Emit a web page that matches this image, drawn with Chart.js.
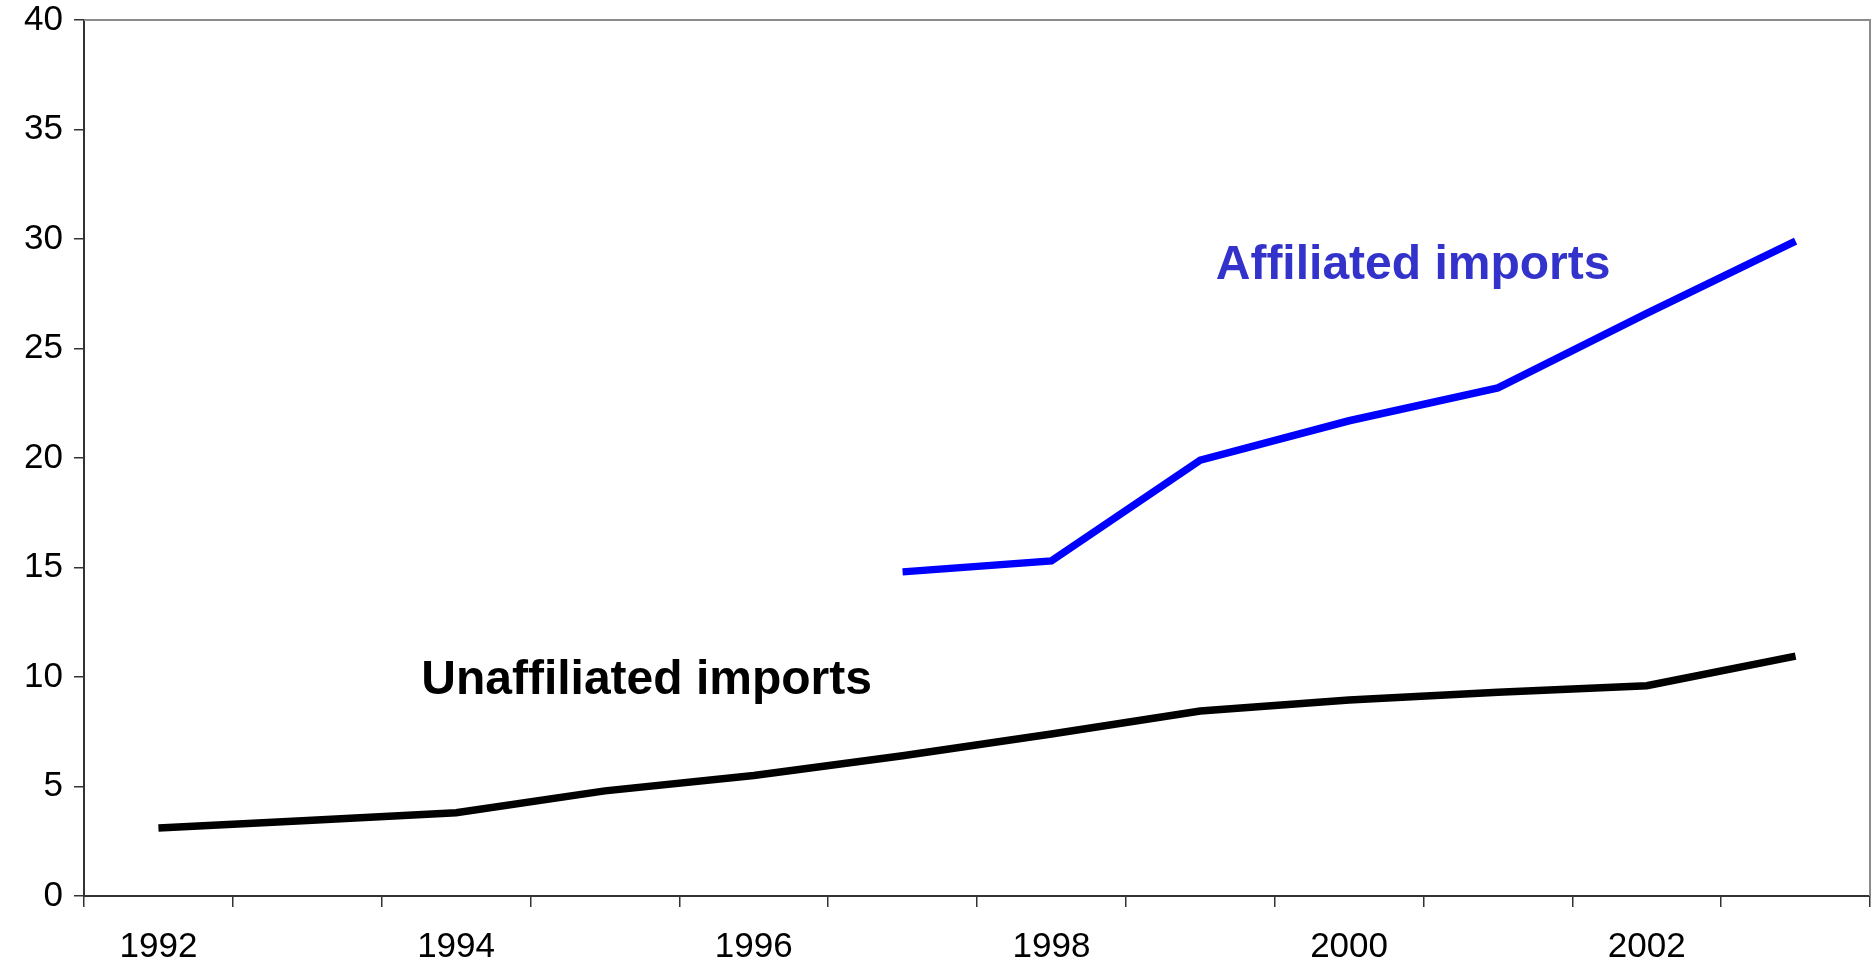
<!DOCTYPE html>
<html>
<head>
<meta charset="utf-8">
<script src="https://cdn.jsdelivr.net/npm/chart.js@4.4.1/dist/chart.umd.min.js"></script>
<style>
    html, body { margin: 0; padding: 0; background: #fff; }
    #wrap { width: 1873px; height: 962px; }
</style>
</head>
<body>
<div id="wrap"><canvas id="importsChart" width="1873" height="962"></canvas></div>
<script>
const years = ['1992', '1993', '1994', '1995', '1996', '1997', '1998', '1999', '2000', '2001', '2002', '2003'];
const unaffiliated = [3.1, 3.45, 3.8, 4.8, 5.5, 6.4, 7.4, 8.45, 8.95, 9.3, 9.6, 10.95];
const affiliated = [null, null, null, null, null, 14.8, 15.3, 19.9, 21.7, 23.2, 26.6, 29.9];
const yTicks = [0, 5, 10, 15, 20, 25, 30, 35, 40];

// text labels: [text, colour, x (category index), y (value)]
const seriesLabels = [
    ['Affiliated imports', '#3333cc', 8.43, 28.8],
    ['Unaffiliated imports', '#000000', 3.28, 9.85]
];

const framePlugin = {
    id: 'frame',
    afterDraw: function (chart) {
        const ctx = chart.ctx;
        const area = chart.chartArea;
        ctx.save();
        ctx.strokeStyle = '#8c8c8c';
        ctx.lineWidth = 2;
        ctx.beginPath();
        ctx.moveTo(area.left, area.top);
        ctx.lineTo(area.right, area.top);
        ctx.lineTo(area.right, area.bottom);
        ctx.stroke();

        ctx.font = 'bold 48px "Liberation Sans", Arial, sans-serif';
        ctx.textAlign = 'center';
        ctx.textBaseline = 'middle';
        seriesLabels.forEach(function (item) {
            ctx.fillStyle = item[1];
            ctx.fillText(item[0], chart.scales.x.getPixelForValue(item[2]), chart.scales.y.getPixelForValue(item[3]));
        });
        ctx.restore();
    }
};

const showChart = function () {
    const ctx = document.getElementById('importsChart').getContext('2d');
    const tickFont = { family: '"Liberation Sans", Arial, sans-serif', size: 35 };

    new Chart(ctx, {
        type: 'line',
        data: {
            labels: years,
            datasets: [{
                label: 'Unaffiliated imports',
                data: unaffiliated,
                borderColor: '#000000',
                borderWidth: 7.5,
                pointRadius: 0,
                tension: 0
            }, {
                label: 'Affiliated imports',
                data: affiliated,
                borderColor: '#0000ff',
                borderWidth: 7.5,
                pointRadius: 0,
                tension: 0
            }]
        },
        options: {
            responsive: false,
            animation: false,
            layout: { padding: { top: 0, right: 3, left: 0, bottom: 0 } },
            plugins: {
                legend: { display: false },
                tooltip: { enabled: false }
            },
            scales: {
                x: {
                    offset: true,
                    grid: { offset: true, drawOnChartArea: false, tickLength: 11, color: '#333', lineWidth: 1.5 },
                    border: { color: '#333', width: 2 },
                    ticks: {
                        autoSkip: false,
                        maxRotation: 0,
                        padding: 19,
                        color: '#000',
                        font: tickFont,
                        callback: function (value, index) {
                            return index % 2 === 0 ? years[index] : '';
                        }
                    },
                    afterFit: function (scale) { scale.height = 66; }
                },
                y: {
                    min: 0,
                    max: 40,
                    afterBuildTicks: function (scale) {
                        scale.ticks = yTicks.map(function (v) { return { value: v }; });
                    },
                    grid: { drawOnChartArea: false, tickLength: 10, color: '#333', lineWidth: 1.5 },
                    border: { color: '#333', width: 2 },
                    ticks: { padding: 11, color: '#000', font: tickFont },
                    afterFit: function (scale) {
                        scale.width = 84;
                        scale.paddingTop = 20;
                    }
                }
            }
        },
        plugins: [framePlugin]
    });
};

showChart();
</script>
</body>
</html>
